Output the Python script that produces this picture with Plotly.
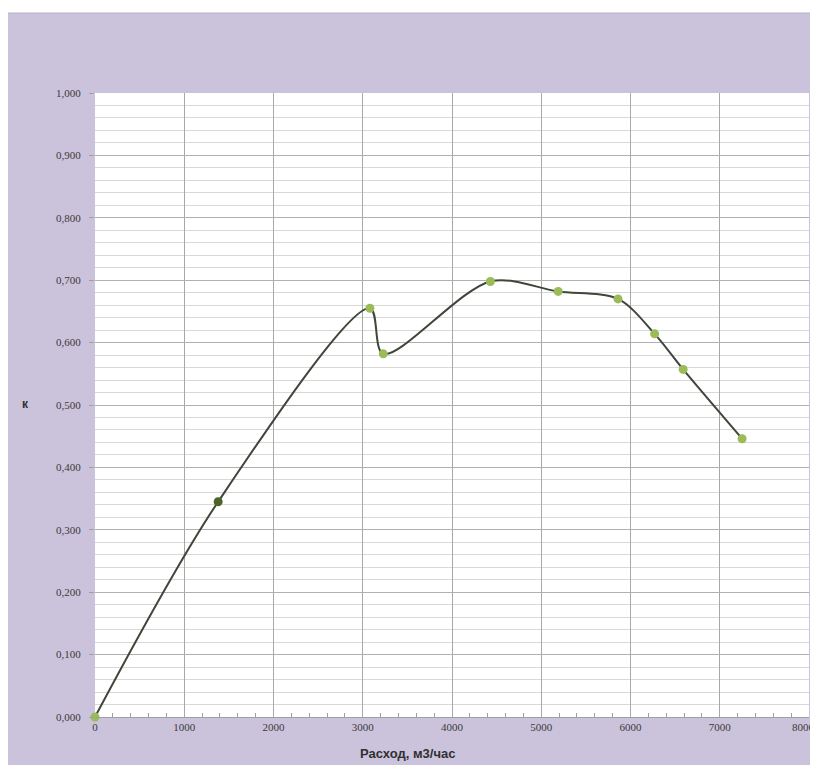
import plotly.graph_objects as go

# Data
flow = [0, 1380, 3080, 3230, 4430, 5190, 5860, 6270, 6590, 7250]
k_values = [0.000, 0.345, 0.655, 0.582, 0.698, 0.682, 0.670, 0.614, 0.557, 0.446]
marker_colors = ["#9bbb59", "#4f6228", "#9bbb59", "#9bbb59", "#9bbb59",
                 "#9bbb59", "#9bbb59", "#9bbb59", "#9bbb59", "#9bbb59"]
x_max = 8000

x_title = "Расход, м3/час"
y_title = "к"

OFF = 8  # page body margin
W, H = 818 - OFF, 765 - OFF
L, R, T, B = 95 - OFF, 9, 93 - OFF, 48
pw, ph = W - L - R, H - T - B

def px_x(p):
    return (p - OFF - L) / pw

def px_y(p):
    return (H - B - (p - OFF)) / ph

fig = go.Figure()
fig.add_trace(go.Scatter(
    x=flow, y=k_values, mode="lines",
    line=dict(color="#3f463a", width=2, shape="spline", smoothing=0.9),
    hoverinfo="skip", showlegend=False,
))
fig.add_trace(go.Scatter(
    x=flow, y=k_values, mode="markers",
    marker=dict(size=9, color=marker_colors, line=dict(width=0)),
    showlegend=False, cliponaxis=False,
))

purple = "#cbc3dc"
fig.add_shape(type="rect", xref="paper", yref="paper",
              x0=px_x(6), x1=px_x(830), y0=px_y(780), y1=px_y(13),
              fillcolor=purple, line=dict(color="#b8b0c8", width=1), layer="below")
fig.add_shape(type="rect", xref="paper", yref="paper",
              x0=0, x1=1, y0=0, y1=1,
              fillcolor="white", line=dict(width=0), layer="below")

tickfont = dict(family="Liberation Serif", size=11, color="#3a3a3a")

fig.update_xaxes(
    range=[0, x_max], tickmode="linear", tick0=0, dtick=1000, tickformat="d",
    showgrid=True, gridcolor="#a8a8a8", gridwidth=1,
    showline=True, linecolor="#a0a0a0", linewidth=1,
    ticks="", tickfont=tickfont, zeroline=False,
    minor=dict(dtick=200, ticks="inside", ticklen=4, tickcolor="#a0a0a0", showgrid=False),
)
fig.update_yaxes(
    range=[0, 1.0], tickmode="linear", tick0=0, dtick=0.1, tickformat=".3f",
    showgrid=True, gridcolor="#b0b0b0", gridwidth=1,
    showline=False, ticks="outside", ticklen=5, tickcolor="#a0a0a0",
    tickfont=tickfont, zeroline=False, ticklabelstandoff=6,
    minor=dict(dtick=0.02, showgrid=True, gridcolor="#d8d8d8", gridwidth=1),
)

# last x tick label at the right edge, as in the reference
fig.add_annotation(text=str(x_max), xref="paper", yref="paper",
                   x=px_x(817), y=px_y(727), xanchor="right", yanchor="middle",
                   showarrow=False, font=tickfont)

fig.add_annotation(text="<b>" + x_title + "</b>", xref="paper", yref="paper",
                   x=px_x(407), y=px_y(753), xanchor="center", yanchor="middle",
                   showarrow=False,
                   font=dict(family="Liberation Sans", size=13, color="#303030"))
fig.add_annotation(text="<b>" + y_title + "</b>", xref="paper", yref="paper",
                   x=px_x(25), y=px_y(404), xanchor="center", yanchor="middle",
                   showarrow=False,
                   font=dict(family="Liberation Sans", size=12, color="#303030"))

fig.update_layout(
    width=W, height=H,
    margin=dict(l=L, r=R, t=T, b=B),
    paper_bgcolor="white", plot_bgcolor="white",
    separators=", ",
)

fig.write_html("out.html")
